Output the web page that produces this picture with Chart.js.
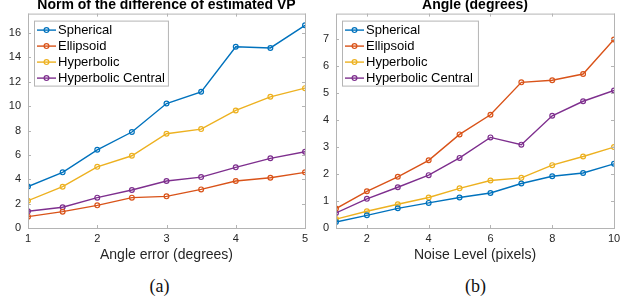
<!DOCTYPE html>
<html>
<head>
<meta charset="utf-8">
<script src="https://cdn.jsdelivr.net/npm/chart.js@4/dist/chart.umd.min.js"></script>
<style>
  html, body { margin: 0; padding: 0; background: #fff; }
  body { width: 634px; height: 305px; position: relative; overflow: hidden; }
  .panel { position: absolute; top: 0; width: 317px; height: 268px; }
  .caption { position: absolute; top: 276px; width: 317px; text-align: center;
             font-family: "Liberation Serif", "DejaVu Serif", serif; font-size: 18px; color: #111; }
</style>
</head>
<body>
<div class="panel" style="left:0"><canvas id="chartA"></canvas></div>
<div class="panel" style="left:317px"><canvas id="chartB"></canvas></div>
<div class="caption" style="left:1px">(a)</div>
<div class="caption" style="left:317px">(b)</div>
<script>
const seriesNames = ['Spherical', 'Ellipsoid', 'Hyperbolic', 'Hyperbolic Central'];
const seriesColors = ['#0072BD', '#D95319', '#EDB120', '#7E2F8E'];

// (a) angle error
const angleError = [1, 1.5, 2, 2.5, 3, 3.5, 4, 4.5, 5];
const aSpherical = [3.4, 4.57, 6.42, 7.88, 10.22, 11.18, 14.88, 14.78, 16.64];
const aEllipsoid = [0.93, 1.34, 1.86, 2.49, 2.6, 3.17, 3.86, 4.13, 4.57];
const aHyperbolic = [2.24, 3.39, 5.02, 5.93, 7.74, 8.12, 9.65, 10.77, 11.48];
const aHypCentral = [1.37, 1.7, 2.49, 3.12, 3.86, 4.18, 4.98, 5.72, 6.26];
const aXTicks = [1, 2, 3, 4, 5];
const aYTicks = [0, 2, 4, 6, 8, 10, 12, 14, 16];

// (b) noise level
const noiseLevel = [1, 2, 3, 4, 5, 6, 7, 8, 9, 10];
const bSpherical = [0.22, 0.47, 0.73, 0.93, 1.13, 1.3, 1.65, 1.92, 2.04, 2.38];
const bEllipsoid = [0.72, 1.36, 1.9, 2.51, 3.47, 4.2, 5.4, 5.48, 5.71, 6.99];
const bHyperbolic = [0.33, 0.62, 0.88, 1.13, 1.47, 1.76, 1.86, 2.33, 2.65, 3.0];
const bHypCentral = [0.56, 1.08, 1.51, 1.96, 2.6, 3.36, 3.09, 4.16, 4.7, 5.1];
const bXTicks = [2, 4, 6, 8, 10];
const bYTicks = [0, 1, 2, 3, 4, 5, 6, 7];

const boxColor = '#b4b4b4';
const textColor = '#262626';
const sans = '"Liberation Sans", Arial, Helvetica, sans-serif';

function makeDatasets(xs, lists) {
  return lists.map((ys, i) => ({
    label: seriesNames[i],
    data: xs.map((x, j) => ({ x: x, y: ys[j] })),
    borderColor: seriesColors[i],
    backgroundColor: seriesColors[i],
    pointBackgroundColor: 'rgba(255,255,255,0)',
    pointBorderColor: seriesColors[i],
    pointBorderWidth: 1.2,
    pointRadius: 2.4,
    borderWidth: 1.4,
    tension: 0,
  }));
}

// box, inward ticks, title and legend drawn over the plot
const matlabLook = {
  id: 'matlabLook',
  afterDatasetsDraw(chart, args, opts) {
    const { ctx, chartArea: a } = chart;
    const xs = chart.scales.x, ys = chart.scales.y;
    ctx.save();
    ctx.strokeStyle = boxColor;
    ctx.lineWidth = 1;
    ctx.strokeRect(a.left + 0.5, a.top + 0.5, a.right - a.left, a.bottom - a.top);
    ctx.beginPath();
    xs.ticks.forEach((t) => {
      const px = Math.round(xs.getPixelForValue(t.value)) + 0.5;
      ctx.moveTo(px, a.bottom); ctx.lineTo(px, a.bottom - 3);
      ctx.moveTo(px, a.top); ctx.lineTo(px, a.top + 3);
    });
    ys.ticks.forEach((t) => {
      const py = Math.round(ys.getPixelForValue(t.value)) + 0.5;
      ctx.moveTo(a.left, py); ctx.lineTo(a.left + 3, py);
      ctx.moveTo(a.right, py); ctx.lineTo(a.right - 3, py);
    });
    ctx.stroke();

    // title
    ctx.fillStyle = '#000';
    ctx.font = 'bold 14px ' + sans;
    ctx.textAlign = 'center';
    ctx.textBaseline = 'alphabetic';
    ctx.fillText(opts.title, (a.left + a.right) / 2, a.top - 5);

    // legend
    ctx.font = '13px ' + sans;
    const sets = chart.data.datasets;
    const maxW = Math.max(...sets.map((d) => ctx.measureText(d.label).width));
    const bx = a.left + opts.legendDx, by = a.top + 7;
    const bw = 24 + maxW + opts.legendPadR, bh = 65;
    ctx.fillStyle = '#fff';
    ctx.fillRect(bx, by, bw, bh);
    ctx.strokeStyle = boxColor;
    ctx.strokeRect(bx + 0.5, by + 0.5, bw, bh);
    sets.forEach((d, i) => {
      const ry = by + 9.5 + i * 16;
      ctx.strokeStyle = d.borderColor;
      ctx.lineWidth = 1.4;
      ctx.beginPath();
      ctx.moveTo(bx + 3, ry); ctx.lineTo(bx + 22, ry);
      ctx.stroke();
      ctx.lineWidth = 1.2;
      ctx.beginPath();
      ctx.arc(bx + 12.5, ry, 2.4, 0, Math.PI * 2);
      ctx.stroke();
      ctx.fillStyle = '#000';
      ctx.textAlign = 'left';
      ctx.textBaseline = 'middle';
      ctx.fillText(d.label, bx + 24, ry + 0.5);
    });
    ctx.restore();
  },
};

function makeChart(id, xs, lists, cfg) {
  return new Chart(document.getElementById(id), {
    type: 'line',
    data: { datasets: makeDatasets(xs, lists) },
    plugins: [matlabLook],
    options: {
      animation: false,
      responsive: true,
      maintainAspectRatio: false,
      layout: { padding: { left: 0, top: 13, right: cfg.padRight, bottom: 0 } },
      scales: {
        x: {
          type: 'linear',
          min: cfg.xMin,
          max: cfg.xMax,
          afterBuildTicks: (s) => { s.ticks = cfg.xTicks.map((v) => ({ value: v })); },
          afterFit: (s) => { s.height = 40; },
          grid: { display: false, drawTicks: false },
          border: { display: false },
          ticks: { color: textColor, font: { family: sans, size: 11 }, padding: 4, maxRotation: 0 },
          title: {
            display: true,
            text: cfg.xTitle,
            color: textColor,
            font: { family: sans, size: 14 },
            padding: { top: 0, bottom: 4 },
          },
        },
        y: {
          min: 0,
          max: cfg.yMax,
          afterBuildTicks: (s) => { s.ticks = cfg.yTicks.map((v) => ({ value: v })); },
          afterFit: (s) => { s.width = cfg.yWidth; },
          grid: { display: false, drawTicks: false },
          border: { display: false },
          ticks: { color: textColor, font: { family: sans, size: 11 }, padding: 7 },
        },
      },
      plugins: {
        legend: { display: false },
        tooltip: { enabled: false },
        matlabLook: { title: cfg.title, legendDx: cfg.legendDx, legendPadR: cfg.legendPadR },
      },
    },
  });
}

makeChart('chartA', angleError, [aSpherical, aEllipsoid, aHyperbolic, aHypCentral], {
  xMin: 1, xMax: 5, xTicks: aXTicks, yMax: 17.6, yTicks: aYTicks,
  yWidth: 28, padRight: 12, xTitle: 'Angle error (degrees)',
  title: 'Norm of the difference of estimated VP', legendDx: 6, legendPadR: 3,
});

makeChart('chartB', noiseLevel, [bSpherical, bEllipsoid, bHyperbolic, bHypCentral], {
  xMin: 1, xMax: 10, xTicks: bXTicks, yMax: 7.95, yTicks: bYTicks,
  yWidth: 19, padRight: 20, xTitle: 'Noise Level (pixels)',
  title: 'Angle (degrees)', legendDx: 6, legendPadR: 5,
});
</script>
</body>
</html>
